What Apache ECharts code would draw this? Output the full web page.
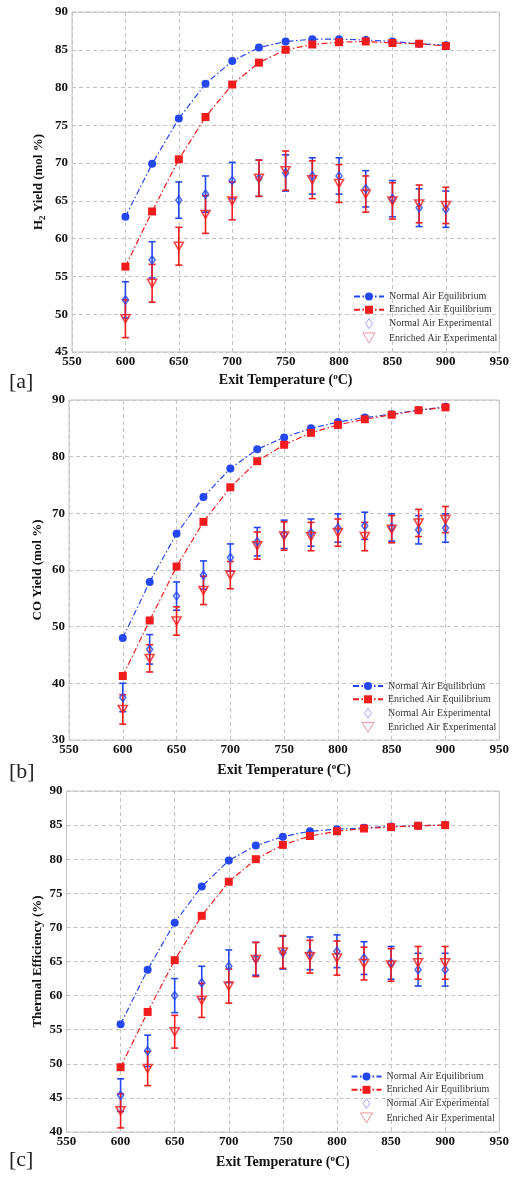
<!DOCTYPE html>
<html>
<head>
<meta charset="utf-8">
<script src="https://cdn.jsdelivr.net/npm/echarts@6/dist/echarts.min.js"></script>
<style>html,body{margin:0;padding:0;background:#fff;}#c{width:512px;height:1179px;}</style>
</head>
<body>
<div id="c"></div>
<script>
// ---------- DATA ----------
const temps = [600, 625, 650, 675, 700, 725, 750, 775, 800, 825, 850, 875, 900];
const xTicks = [550, 600, 650, 700, 750, 800, 850, 900, 950];

// Panel a: H2 Yield (mol %)
const h2NormalEq    = [62.9, 69.9, 75.9, 80.5, 83.5, 85.3, 86.1, 86.4, 86.4, 86.3, 86.1, 85.8, 85.6];
const h2EnrichedEq  = [56.3, 63.6, 70.5, 76.1, 80.4, 83.3, 85.0, 85.7, 86.0, 86.1, 85.9, 85.8, 85.5];
const h2NormalExp   = [51.9, 57.2, 65.1, 65.9, 67.7, 68.0, 68.7, 68.3, 68.3, 66.6, 65.3, 64.1, 63.9];
const h2NormalErr   = [2.4, 2.4, 2.4, 2.4, 2.4, 2.4, 2.4, 2.4, 2.4, 2.4, 2.4, 2.5, 2.4];
const h2EnrichedExp = [49.4, 54.1, 59.0, 63.2, 65.0, 68.0, 69.0, 67.8, 67.3, 65.9, 65.0, 64.6, 64.4];
const h2EnrichedErr = [2.5, 2.5, 2.5, 2.5, 2.5, 2.4, 2.6, 2.5, 2.5, 2.4, 2.4, 2.5, 2.4];

// Panel b: CO Yield (mol %)
const coNormalEq    = [48.0, 57.9, 66.4, 72.9, 77.9, 81.3, 83.4, 85.0, 86.1, 86.9, 87.5, 88.2, 88.8];
const coEnrichedEq  = [41.3, 51.1, 60.6, 68.5, 74.6, 79.2, 82.1, 84.2, 85.6, 86.6, 87.4, 88.2, 88.7];
const coNormalExp   = [37.5, 46.0, 55.4, 59.1, 62.2, 65.0, 66.3, 66.6, 67.4, 67.8, 67.5, 67.1, 67.4];
const coNormalErr   = [2.5, 2.6, 2.5, 2.5, 2.4, 2.5, 2.5, 2.4, 2.5, 2.4, 2.4, 2.5, 2.5];
const coEnrichedExp = [35.4, 44.4, 51.0, 56.4, 59.1, 64.3, 66.0, 65.9, 66.6, 65.9, 67.2, 68.3, 68.9];
const coEnrichedErr = [2.6, 2.4, 2.5, 2.5, 2.4, 2.4, 2.5, 2.5, 2.4, 2.5, 2.4, 2.4, 2.3];

// Panel c: Thermal Efficiency (%)
const effNormalEq    = [55.8, 63.8, 70.7, 76.0, 79.8, 82.0, 83.3, 84.1, 84.4, 84.6, 84.8, 84.9, 85.0];
const effEnrichedEq  = [49.5, 57.6, 65.2, 71.7, 76.7, 80.0, 82.1, 83.4, 84.1, 84.5, 84.7, 84.9, 85.0];
const effNormalExp   = [45.4, 51.9, 60.0, 61.9, 64.3, 65.4, 66.3, 66.2, 66.5, 65.5, 64.8, 63.8, 63.8];
const effNormalErr   = [2.4, 2.3, 2.5, 2.4, 2.4, 2.4, 2.4, 2.4, 2.4, 2.4, 2.4, 2.4, 2.4];
const effEnrichedExp = [43.1, 49.3, 54.7, 59.3, 61.4, 65.3, 66.4, 65.7, 65.5, 64.7, 64.5, 64.8, 64.8];
const effEnrichedErr = [2.5, 2.5, 2.4, 2.5, 2.5, 2.5, 2.4, 2.4, 2.5, 2.4, 2.4, 2.4, 2.4];

const names = ['Normal Air Equilibrium', 'Enriched Air Equilibrium', 'Normal Air Experimental', 'Enriched Air Experimental'];

// ---------- STYLE ----------
const BLUE = '#2447f2';
const RED = '#f21c1c';
const FONT = 'Liberation Serif';
const dashDot = [6, 2.5, 1.5, 2.5];
const DIAMOND_ICON = 'path://M5,0L9,6L5,12L1,6Z';
const TRI_ICON = 'path://M0,0L12,0L6,10Z';

const panels = [
  {ne: h2NormalEq, ee: h2EnrichedEq, nx: h2NormalExp, nxe: h2NormalErr, ex: h2EnrichedExp, exe: h2EnrichedErr,
   min: 45, max: 90, step: 5, yname: '{b|H}{s|2}{b| Yield (mol %)}', nameGap: 25, xNameGap: 20,
   grid: {left: 72, width: 429.5, top: 12, height: 340}, legendTop: 291.5, legendLeft: 353, label: '[a]', labelY: 384},
  {ne: coNormalEq, ee: coEnrichedEq, nx: coNormalExp, nxe: coNormalErr, ex: coEnrichedExp, exe: coEnrichedErr,
   min: 30, max: 90, step: 10, yname: '{b|CO Yield (mol %)}', nameGap: 23, xNameGap: 22,
   grid: {left: 69, width: 432.5, top: 400, height: 340}, legendTop: 681, legendLeft: 352, label: '[b]', labelY: 774},
  {ne: effNormalEq, ee: effEnrichedEq, nx: effNormalExp, nxe: effNormalErr, ex: effEnrichedExp, exe: effEnrichedErr,
   min: 40, max: 90, step: 5, yname: '{b|Thermal Efficiency (%)}', nameGap: 21, xNameGap: 22,
   grid: {left: 66.5, width: 434.5, top: 791, height: 341}, legendTop: 1071.5, legendLeft: 350.5, label: '[c]', labelY: 1162}
];

function errRender(params, api) {
  const x = api.value(0), y = api.value(1), e = api.value(2);
  const hi = api.coord([x, y + e]);
  const lo = api.coord([x, y - e]);
  const w = 3.5;
  const style = {stroke: api.visual('color'), lineWidth: 1.6};
  return {
    type: 'group',
    children: [
      {type: 'line', shape: {x1: hi[0], y1: hi[1], x2: lo[0], y2: lo[1]}, style: style},
      {type: 'line', shape: {x1: hi[0] - w, y1: hi[1], x2: hi[0] + w, y2: hi[1]}, style: style},
      {type: 'line', shape: {x1: lo[0] - w, y1: lo[1], x2: lo[0] + w, y2: lo[1]}, style: style}
    ]
  };
}

const grids = [], xAxes = [], yAxes = [], series = [], legends = [], graphics = [];

panels.forEach((p, i) => {
  grids.push(Object.assign({show: true, borderColor: '#c4c4c4', borderWidth: 1, backgroundColor: 'transparent'}, p.grid));
  xAxes.push({
    type: 'value', gridIndex: i, min: xTicks[0], max: xTicks[xTicks.length - 1], interval: 50,
    axisLine: {show: false}, axisTick: {show: false},
    splitLine: {show: true, lineStyle: {color: '#c4c4c4', type: [4, 3], width: 1}},
    axisLabel: {margin: 3, fontFamily: FONT, fontWeight: 'bold', fontSize: 13, color: '#111'},
    name: '{t|Exit Temperature (}{u|o}{t|C)}', nameLocation: 'middle', nameGap: p.xNameGap,
    nameMoveOverlap: false,
    nameTextStyle: {rich: {
      t: {fontFamily: FONT, fontWeight: 'bold', fontSize: 14, color: '#111', lineHeight: 16},
      u: {fontFamily: FONT, fontWeight: 'bold', fontSize: 9, color: '#111', lineHeight: 9, verticalAlign: 'top'}
    }}
  });
  yAxes.push({
    type: 'value', gridIndex: i, min: p.min, max: p.max, interval: p.step,
    axisLine: {show: false}, axisTick: {show: false},
    splitLine: {show: true, lineStyle: {color: '#c4c4c4', type: [4, 3], width: 1}},
    axisLabel: {margin: 4, fontFamily: FONT, fontWeight: 'bold', fontSize: 13, color: '#111'},
    name: p.yname, nameLocation: 'middle', nameGap: p.nameGap, nameRotate: 90,
    nameMoveOverlap: false,
    nameTextStyle: {rich: {
      b: {fontFamily: FONT, fontWeight: 'bold', fontSize: 13, color: '#111', lineHeight: 16},
      s: {fontFamily: FONT, fontWeight: 'bold', fontSize: 9, color: '#111', lineHeight: 9, verticalAlign: 'bottom'}
    }}
  });

  const pts = arr => temps.map((t, k) => [t, arr[k]]);
  const errPts = (arr, err) => temps.map((t, k) => [t, arr[k], err[k]]);

  series.push({
    type: 'custom', name: 'errN' + i, xAxisIndex: i, yAxisIndex: i, renderItem: errRender,
    encode: {x: 0, y: 1}, itemStyle: {color: BLUE}, data: errPts(p.nx, p.nxe), z: 2, silent: true
  });
  series.push({
    type: 'custom', name: 'errE' + i, xAxisIndex: i, yAxisIndex: i, renderItem: errRender,
    encode: {x: 0, y: 1}, itemStyle: {color: RED}, data: errPts(p.ex, p.exe), z: 2, silent: true
  });
  series.push({
    type: 'scatter', name: names[2], xAxisIndex: i, yAxisIndex: i, data: pts(p.nx),
    symbol: 'diamond', symbolSize: [6, 8],
    itemStyle: {color: 'rgba(255,255,255,0)', borderColor: BLUE, borderWidth: 1.6}, z: 3
  });
  series.push({
    type: 'scatter', name: names[3], xAxisIndex: i, yAxisIndex: i, data: pts(p.ex),
    symbol: 'triangle', symbolRotate: 180, symbolSize: [9, 8],
    itemStyle: {color: 'rgba(255,255,255,0)', borderColor: RED, borderWidth: 1.6}, z: 3
  });
  series.push({
    type: 'line', name: names[0], xAxisIndex: i, yAxisIndex: i, data: pts(p.ne),
    symbol: 'circle', symbolSize: 8, showAllSymbol: true,
    lineStyle: {color: BLUE, width: 1.2, type: dashDot}, itemStyle: {color: BLUE}, z: 4
  });
  series.push({
    type: 'line', name: names[1], xAxisIndex: i, yAxisIndex: i, data: pts(p.ee),
    symbol: 'rect', symbolSize: 8, showAllSymbol: true,
    lineStyle: {color: RED, width: 1.2, type: dashDot}, itemStyle: {color: RED}, z: 4
  });

  legends.push({
    orient: 'vertical', left: p.legendLeft, top: p.legendTop,
    itemWidth: 30, itemHeight: 10, itemGap: 3.3, padding: 0,
    textStyle: {fontFamily: FONT, fontSize: 10, color: '#333', lineHeight: 10},
    selectedMode: false,
    data: [
      {name: names[0]},
      {name: names[1]},
      {name: names[2], icon: DIAMOND_ICON, symbolKeepAspect: true,
       itemStyle: {color: 'rgba(255,255,255,0)', borderColor: '#8c8cf0', borderWidth: 1}},
      {name: names[3], icon: TRI_ICON, symbolKeepAspect: true,
       itemStyle: {color: 'rgba(255,255,255,0)', borderColor: '#f07a8a', borderWidth: 1}}
    ]
  });

  graphics.push({
    type: 'text', left: 9, top: p.labelY - 13,
    style: {text: p.label, font: '22px "Liberation Serif"', fill: '#222'}
  });
});

const chart = echarts.init(document.getElementById('c'), null, {renderer: 'canvas'});
chart.setOption({
  animation: false,
  backgroundColor: '#fff',
  grid: grids, xAxis: xAxes, yAxis: yAxes, series: series, legend: legends, graphic: graphics
});
</script>
</body>
</html>
